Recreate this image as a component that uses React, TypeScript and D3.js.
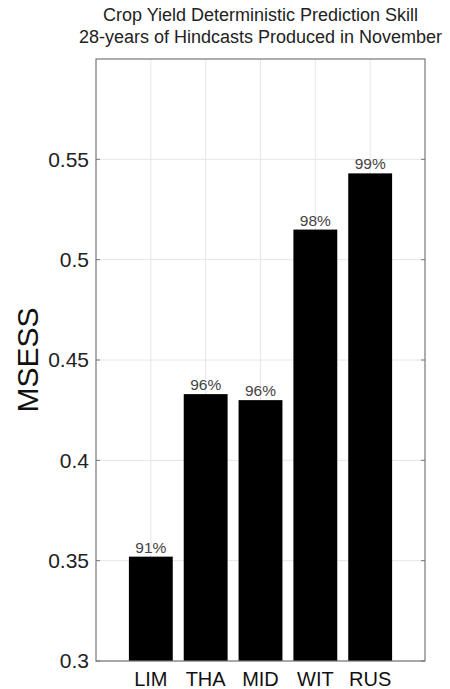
import React from 'react';
import * as d3 from 'd3';

const regions = ['LIM', 'THA', 'MID', 'WIT', 'RUS'];
const msess = [0.352, 0.433, 0.43, 0.515, 0.543];
const skillLabels = ['91%', '96%', '96%', '98%', '99%'];
const yTicks = [0.3, 0.35, 0.4, 0.45, 0.5, 0.55];
const titleLines = [
  'Crop Yield Deterministic Prediction Skill',
  '28-years of Hindcasts Produced in November'
];

const W = 450;
const H = 689;
const margin = { top: 59, right: 25, bottom: 28, left: 96 };
const font = 'Liberation Sans, Arial, sans-serif';

export default function App() {
  const innerW = W - margin.left - margin.right;
  const innerH = H - margin.top - margin.bottom;

  const x = d3.scaleLinear().domain([0, regions.length + 1]).range([0, innerW]);
  const y = d3.scaleLinear().domain([0.3, 0.6]).range([innerH, 0]);
  const barW = (x(1) - x(0)) * 0.8;
  const fmt = d3.format('');

  const gridX = d3.range(1, regions.length + 1);

  return (
    <svg width={W} height={H} style={{ position: 'absolute', left: 0, top: 0, background: '#fff' }}>
      {titleLines.map((t, i) => (
        <text key={t} x={margin.left + innerW / 2} y={21 + i * 22} textAnchor="middle"
          fontFamily={font} fontSize={18} fill="#222">{t}</text>
      ))}
      <text transform={`translate(38, ${360}) rotate(-90)`} textAnchor="middle"
        fontFamily={font} fontSize={30} fill="#111">MSESS</text>
      <g transform={`translate(${margin.left},${margin.top})`}>
        {yTicks.map(t => (
          <line key={'gy' + t} x1={0} x2={innerW} y1={y(t)} y2={y(t)} stroke="#e6e6e6" strokeWidth={1} />
        ))}
        {gridX.map(i => (
          <line key={'gx' + i} x1={x(i)} x2={x(i)} y1={0} y2={innerH} stroke="#e6e6e6" strokeWidth={1} />
        ))}
        {msess.map((v, i) => (
          <rect key={regions[i]} x={x(i + 1) - barW / 2} y={y(v)} width={barW} height={innerH - y(v)} fill="#000" />
        ))}
        {msess.map((v, i) => (
          <text key={'l' + i} x={x(i + 1)} y={y(v) - 4} textAnchor="middle"
            fontFamily={font} fontSize={15.5} fill="#444">{skillLabels[i]}</text>
        ))}
        <rect x={0} y={0} width={innerW} height={innerH} fill="none" stroke="#777" strokeWidth={1.2} />
        {yTicks.map(t => (
          <g key={'t' + t}>
            <line x1={0} x2={4} y1={y(t)} y2={y(t)} stroke="#777" />
            <line x1={innerW - 4} x2={innerW} y1={y(t)} y2={y(t)} stroke="#777" />
            <text x={-7} y={y(t)} dy="0.35em" textAnchor="end" fontFamily={font} fontSize={21} fill="#222">{fmt(t)}</text>
          </g>
        ))}
        {regions.map((r, i) => (
          <text key={'x' + r} x={x(i + 1)} y={innerH + 25} textAnchor="middle"
            fontFamily={font} fontSize={20} fill="#111">{r}</text>
        ))}
      </g>
    </svg>
  );
}
